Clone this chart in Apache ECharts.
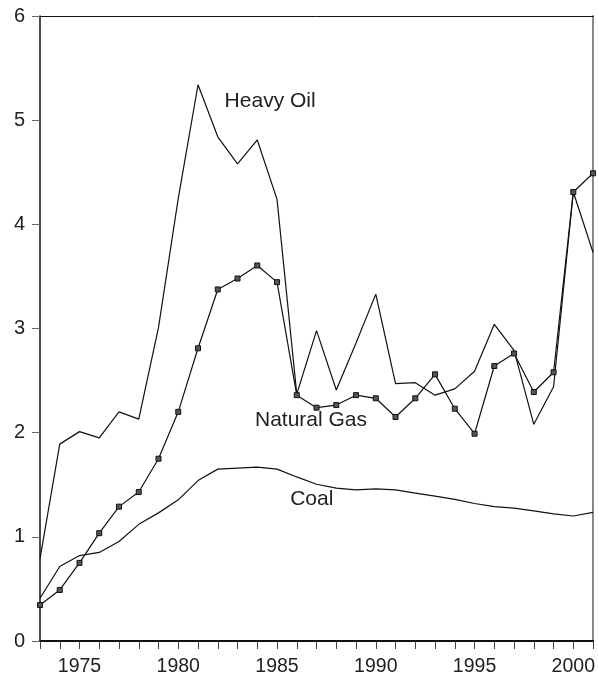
<!DOCTYPE html>
<html>
<head>
<meta charset="utf-8">
<script src="https://cdn.jsdelivr.net/npm/echarts@6/dist/echarts.min.js"></script>
<style>
html,body{margin:0;padding:0;background:#fff;}
#chart{width:598px;height:677px;}
</style>
</head>
<body>
<div id="chart"></div>
<script>
var years = [1973,1974,1975,1976,1977,1978,1979,1980,1981,1982,1983,1984,1985,1986,1987,1988,1989,1990,1991,1992,1993,1994,1995,1996,1997,1998,1999,2000,2001];
var heavyOil = [0.79,1.89,2.01,1.95,2.20,2.13,3.01,4.25,5.34,4.84,4.58,4.81,4.24,2.37,2.98,2.41,2.86,3.33,2.47,2.48,2.36,2.42,2.59,3.04,2.79,2.08,2.44,4.31,3.73];
var naturalGas = [0.345,0.49,0.75,1.035,1.29,1.43,1.75,2.20,2.81,3.375,3.48,3.605,3.445,2.36,2.24,2.265,2.36,2.33,2.15,2.33,2.56,2.23,1.99,2.64,2.76,2.39,2.58,4.31,4.49];
var coal = [0.41,0.715,0.82,0.85,0.955,1.12,1.23,1.355,1.54,1.65,1.66,1.67,1.65,1.575,1.505,1.467,1.45,1.46,1.45,1.42,1.39,1.36,1.32,1.29,1.275,1.25,1.22,1.20,1.235];
var labelNames = ['Heavy Oil','Natural Gas','Coal'];
var labelCoords = [[1984.65,5.18],[1986.72,2.12],[1986.76,1.36]];

function pairs(vals){ return years.map(function(y,i){ return [y, vals[i]]; }); }
var font = 'Liberation Sans, Arial, sans-serif';
function annot(i){
  return {
    symbol:'circle', symbolSize:1, silent:true,
    itemStyle:{color:'rgba(0,0,0,0)'},
    label:{show:true, position:'inside', formatter:labelNames[i], color:'#222', fontSize:21, fontFamily:font},
    data:[{coord:labelCoords[i]}]
  };
}
var chart = echarts.init(document.getElementById('chart'));
chart.setOption({
  animation:false,
  backgroundColor:'#fff',
  grid:{left:40, top:16, right:4, bottom:35, containLabel:false},
  xAxis:[{
    type:'value', min:1973, max:2001, interval:1, position:'bottom',
    axisLine:{show:true, onZero:false, lineStyle:{color:'#111', width:2}},
    axisTick:{show:true, length:8, lineStyle:{color:'#444', width:1}},
    axisLabel:{color:'#222', fontSize:19.5, fontFamily:font, margin:16,
      formatter:function(v){ return v%5===0 ? String(v) : ''; }},
    splitLine:{show:false}
  },{
    type:'value', min:1973, max:2001, position:'top',
    axisLine:{show:true, onZero:false, lineStyle:{color:'#111', width:1}},
    axisTick:{show:false}, axisLabel:{show:false}, splitLine:{show:false}
  }],
  yAxis:[{
    type:'value', min:0, max:6, interval:1, position:'left',
    axisLine:{show:true, onZero:false, lineStyle:{color:'#111', width:1.5}},
    axisTick:{show:true, length:8, lineStyle:{color:'#666', width:1}},
    axisLabel:{color:'#222', fontSize:20, fontFamily:font, margin:15},
    splitLine:{show:false}
  },{
    type:'value', min:0, max:6, position:'right',
    axisLine:{show:true, onZero:false, lineStyle:{color:'#888', width:2}},
    axisTick:{show:false}, axisLabel:{show:false}, splitLine:{show:false}
  }],
  series:[{
    name:'Heavy Oil', type:'line', data:pairs(heavyOil), showSymbol:false, symbol:'none',
    lineStyle:{color:'#111', width:1.2}, markPoint:annot(0), z:3
  },{
    name:'Natural Gas', type:'line', data:pairs(naturalGas), symbol:'rect', symbolSize:5, showSymbol:true,
    lineStyle:{color:'#111', width:1.2},
    itemStyle:{color:'#555', borderColor:'#111', borderWidth:1}, markPoint:annot(1), z:4
  },{
    name:'Coal', type:'line', data:pairs(coal), symbol:'none',
    lineStyle:{color:'#111', width:1.2}, markPoint:annot(2), z:3
  }]
});
</script>
</body>
</html>
